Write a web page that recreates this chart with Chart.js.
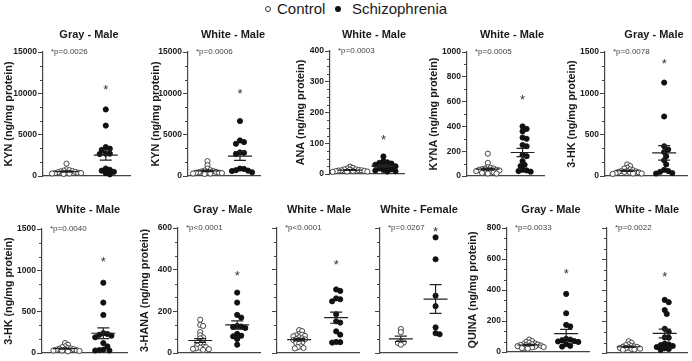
<!DOCTYPE html>
<html>
<head>
<meta charset="utf-8">
<script src="https://cdn.jsdelivr.net/npm/chart.js@4.4.1/dist/chart.umd.min.js"></script>
<style>
  html, body { margin: 0; padding: 0; background: #fff; overflow: hidden; }
  #wrap { position: relative; width: 692px; height: 361px; font-family: 'Liberation Sans', Arial, sans-serif; }
  .panel { position: absolute; }
  .dot { position: absolute; top: 6px; width: 6px; height: 6px; border-radius: 50%; box-sizing: border-box; }
  .open { border: 1px solid #333; background: #fff; }
  .fill { background: #111; }
  .lab { position: absolute; top: 1px; font-size: 15px; line-height: 15px; color: #1a1a1a; white-space: nowrap; }
</style>
</head>
<body>
<div id="wrap">
  <span class="dot open" style="left:265px"></span><span class="lab" style="left:277px">Control</span>
  <span class="dot fill" style="left:335px"></span><span class="lab" style="left:352px">Schizophrenia</span>
</div>
<script>
// ---------------------------------------------------------------
// Kynurenine pathway metabolites - control vs schizophrenia
// ---------------------------------------------------------------
const titles = ['Gray - Male', 'White - Male', 'White - Male', 'White - Male', 'Gray - Male',
                'White - Male', 'Gray - Male', 'White - Male', 'White - Female', 'Gray - Male', 'White - Male'];
const yTitles = ['KYN (ng/mg protein)', 'KYN (ng/mg protein)', 'ANA (ng/mg protein)', 'KYNA (ng/mg protein)',
                 '3-HK (ng/mg protein)', '3-HK (ng/mg protein)', '3-HANA (ng/mg protein)', '', '',
                 'QUINA (ng/mg protein)', ''];
const pTexts = ['*p=0.0026', '*p=0.0006', '*p=0.0003', '*p=0.0005', '*p=0.0078', '*p=0.0040',
                '*p<0.0001', '*p<0.0001', '*p=0.0267', '*p=0.0033', '*p=0.0022'];
const yMax   = [15000, 15000, 400, 1000, 1500, 1500, 600, 600, 600, 800, 800];
const yMajor = [5000, 5000, 100, 200, 500, 500, 200, 200, 200, 200, 200];
const yMinorDiv = [3, 3, 4, 2, 3, 3, 3, 3, 3, 3, 3];
const starAt = [10800, 10400, 121, 642, 1400, 1146, 386, 441, 600, 529, 507];

const control = [
  [1500, 800, 700, 650, 600, 550, 500, 450, 400, 400, 350, 300, 300, 250, 350],
  [1800, 1300, 900, 700, 650, 600, 550, 500, 450, 400, 400, 350, 300, 300, 250, 500],
  [24, 20, 18, 15, 15, 14, 13, 12, 12, 11, 10, 10, 9, 8, 8, 7],
  [180, 105, 70, 65, 60, 60, 55, 50, 50, 45, 45, 40, 40, 35, 30, 25, 20, 20],
  [140, 120, 100, 90, 80, 70, 60, 60, 55, 50, 50, 45, 40, 35, 30, 30, 25],
  [120, 100, 80, 70, 60, 55, 50, 45, 40, 40, 35, 30, 30, 25, 20],
  [160, 135, 130, 100, 85, 75, 70, 60, 55, 50, 45, 40, 35, 30, 28, 25, 22, 20, 18, 15],
  [110, 105, 90, 88, 85, 82, 80, 75, 70, 67, 65, 62, 60, 50, 48, 45, 32, 28, 24, 22],
  [115, 100, 55, 50, 48, 40],
  [80, 70, 65, 60, 55, 50, 50, 48, 45, 45, 42, 40, 38, 35, 32, 30, 28, 25, 22],
  [75, 65, 55, 50, 45, 42, 40, 38, 35, 32, 30, 28, 25, 22, 20]
];
const schizophrenia = [
  [8050, 6100, 3500, 3300, 3150, 2700, 2700, 2650, 900, 750, 650, 500, 350, 200],
  [6650, 4300, 4100, 3900, 2850, 2800, 2650, 900, 850, 700, 650, 600, 450],
  [57, 42, 38, 36, 34, 30, 28, 25, 22, 18, 15, 13, 11, 9, 8],
  [400, 380, 360, 310, 300, 250, 240, 170, 160, 120, 90, 80, 50, 45, 40, 35],
  [1130, 720, 360, 320, 290, 240, 190, 140, 75, 60, 50, 35, 30],
  [850, 610, 460, 240, 230, 220, 210, 190, 120, 80, 40, 35, 30, 30],
  [290, 242, 183, 170, 130, 127, 125, 120, 92, 83, 80, 67, 40],
  [305, 298, 262, 258, 248, 186, 152, 146, 104, 88, 53, 52, 50],
  [555, 450, 275, 225, 123, 95, 90],
  [375, 250, 175, 165, 85, 80, 75, 70, 68, 65, 50, 40, 35],
  [340, 325, 275, 250, 155, 135, 100, 98, 60, 55, 50, 45, 38, 30, 25, 20]
];

// panel frames: axis x, plot right, top/bottom of plot, title centre, y-title centre
const frames = [
  {ax: 43,  rx: 133, ty: 52,  by: 176, tx: 89,  hy: 35,  lx: 9.3},
  {ax: 188, rx: 263, ty: 52,  by: 176, tx: 233, hy: 35,  lx: 156},
  {ax: 330, rx: 407, ty: 51,  by: 174, tx: 374, hy: 35,  lx: 301.5},
  {ax: 467, rx: 547, ty: 52,  by: 176, tx: 512, hy: 35,  lx: 434},
  {ax: 605, rx: 690, ty: 52,  by: 176, tx: 654, hy: 35,  lx: 572},
  {ax: 42,  rx: 130, ty: 229, by: 353, tx: 88,  hy: 210, lx: 9},
  {ax: 178, rx: 263, ty: 228, by: 353, tx: 223, hy: 210, lx: 145},
  {ax: 277, rx: 362, ty: 228, by: 353, tx: 319, hy: 210, lx: null},
  {ax: 380, rx: 460, ty: 228, by: 353, tx: 419, hy: 210, lx: null},
  {ax: 507, rx: 592, ty: 228, by: 352, tx: 551, hy: 210, lx: 473},
  {ax: 607, rx: 691, ty: 228, by: 353, tx: 647, hy: 210, lx: null}
];

const FONT = "'Liberation Sans', Arial, sans-serif";
const X_MIN = -0.6, X_MAX = 1.62;
Chart.defaults.font.family = FONT;

function meanSem(v) {
  const n = v.length;
  const m = v.reduce((a, b) => a + b, 0) / n;
  const sd = Math.sqrt(v.reduce((a, b) => a + (b - m) * (b - m), 0) / (n - 1));
  return [m, sd / Math.sqrt(n)];
}

// compact beeswarm, dots may overlap a little like in Prism
function swarm(values, center, pxX, pxY, d) {
  const order = values.map((v, k) => k).sort((a, b) => values[b] - values[a]);
  const placed = [];
  const out = [];
  for (const k of order) {
    const py = values[k] * pxY;
    let off = 0;
    for (let s = 0; s < 80; s++) {
      const cand = s === 0 ? 0 : (s % 2 ? 1 : -1) * Math.ceil(s / 2) * d * 0.5;
      const ok = placed.every(p => Math.hypot(p[0] - cand, p[1] - py) >= d);
      if (ok) { off = cand; break; }
    }
    placed.push([off, py]);
    out.push({x: center + off / pxX, y: values[k]});
  }
  return out;
}

const decor = {
  id: 'decor',
  afterDraw(chart, args, o) {
    const {ctx, chartArea, scales: {x, y}} = chart;
    ctx.save();
    // minor ticks
    ctx.strokeStyle = '#444';
    ctx.lineWidth = 1;
    y.ticks.forEach(t => {
      if (!o.isMajor(t.value)) {
        const py = Math.round(y.getPixelForValue(t.value)) + 0.5;
        ctx.beginPath();
        ctx.moveTo(chartArea.left - 3, py);
        ctx.lineTo(chartArea.left, py);
        ctx.stroke();
      }
    });
    // mean +/- SEM
    ctx.strokeStyle = '#222';
    ctx.lineWidth = 1.2;
    [o.ctrl, o.sch].forEach((vals, g) => {
      const [m, se] = meanSem(vals);
      const cx = x.getPixelForValue(g);
      const pm = y.getPixelForValue(m), p1 = y.getPixelForValue(m + se), p2 = y.getPixelForValue(m - se);
      ctx.beginPath();
      ctx.moveTo(cx - 12, pm); ctx.lineTo(cx + 12, pm);
      ctx.moveTo(cx, p1); ctx.lineTo(cx, p2);
      ctx.moveTo(cx - 6, p1); ctx.lineTo(cx + 6, p1);
      ctx.moveTo(cx - 6, p2); ctx.lineTo(cx + 6, p2);
      ctx.stroke();
    });
    // title, p value, star
    ctx.fillStyle = '#1a1a1a';
    ctx.textAlign = 'center';
    ctx.textBaseline = 'middle';
    ctx.font = 'bold 11px ' + FONT;
    ctx.fillText(o.title, o.titleX, o.titleY);
    ctx.fillStyle = '#444';
    ctx.textAlign = 'left';
    ctx.font = '8px ' + FONT;
    ctx.fillText(o.p, chartArea.left + 8, chartArea.top);
    ctx.fillStyle = '#333';
    ctx.textAlign = 'center';
    ctx.textBaseline = 'alphabetic';
    ctx.font = '13px ' + FONT;
    ctx.fillText('*', x.getPixelForValue(1), y.getPixelForValue(o.star) + 7.5);
    ctx.restore();
  }
};

const wrap = document.getElementById('wrap');

frames.forEach((f, i) => {
  const left = Math.round(f.lx != null ? f.lx - 6.5 : f.ax - 8);
  const top = f.hy - 12;
  const right = Math.min(f.rx + 2, 692);
  const bottom = f.by + 8;
  const box = document.createElement('div');
  box.className = 'panel';
  box.style.left = left + 'px';
  box.style.top = top + 'px';
  box.style.width = (right - left) + 'px';
  box.style.height = (bottom - top) + 'px';
  const cv = document.createElement('canvas');
  box.appendChild(cv);
  wrap.appendChild(box);

  const step = yMajor[i] / yMinorDiv[i];
  const isMajor = v => Math.abs(v / yMajor[i] - Math.round(v / yMajor[i])) < 1e-6;
  const pxX = (f.rx - f.ax) / (X_MAX - X_MIN);
  const pxY = (f.by - f.ty) / yMax[i];

  new Chart(cv, {
    type: 'scatter',
    data: {
      datasets: [{
        label: 'Control',
        data: swarm(control[i], 0, pxX, pxY, 3.0),
        pointRadius: 2.6,
        pointBackgroundColor: '#fff',
        pointBorderColor: '#333',
        pointBorderWidth: 0.9,
        clip: false
      }, {
        label: 'Schizophrenia',
        data: swarm(schizophrenia[i], 1, pxX, pxY, 4.2),
        pointRadius: 2.6,
        pointBackgroundColor: '#111',
        pointBorderColor: '#111',
        pointBorderWidth: 0.9,
        clip: false
      }]
    },
    options: {
      responsive: true,
      maintainAspectRatio: false,
      animation: false,
      events: [],
      devicePixelRatio: 1,
      layout: { padding: { left: 0, right: right - f.rx, top: f.ty - top, bottom: bottom - f.by } },
      scales: {
        x: {
          type: 'linear', min: X_MIN, max: X_MAX,
          ticks: { display: false },
          grid: { display: false },
          border: { display: true, color: '#444', width: 1.2 },
          afterFit(axis) { axis.height = 0; }
        },
        y: {
          type: 'linear', min: 0, max: yMax[i],
          afterBuildTicks(axis) {
            const t = [];
            for (let k = 0; k <= Math.round(yMax[i] / step); k++) t.push({value: k * step});
            axis.ticks = t;
          },
          afterFit(axis) { axis.width = f.ax - left; },
          ticks: {
            autoSkip: false,
            padding: 1,
            color: '#1a1a1a',
            font: { size: 8.5, weight: 'bold' },
            callback: v => (yTitles[i] && isMajor(v)) ? String(Math.round(v)) : ''
          },
          grid: {
            display: true, drawOnChartArea: false, drawTicks: true, tickLength: 5, tickWidth: 1,
            tickColor: c => (c.tick && isMajor(c.tick.value)) ? '#444' : 'rgba(0,0,0,0)'
          },
          border: { display: true, color: '#444', width: 1.2 },
          title: {
            display: !!yTitles[i], text: yTitles[i], padding: 0, color: '#1a1a1a',
            font: { size: 10.8, weight: 'bold' }
          }
        }
      },
      plugins: {
        legend: { display: false },
        tooltip: { enabled: false },
        decor: {
          ctrl: control[i], sch: schizophrenia[i], isMajor: isMajor,
          title: titles[i], titleX: f.tx - left, titleY: f.hy - top,
          p: pTexts[i], star: starAt[i]
        }
      }
    },
    plugins: [decor]
  });
});
</script>
</body>
</html>
